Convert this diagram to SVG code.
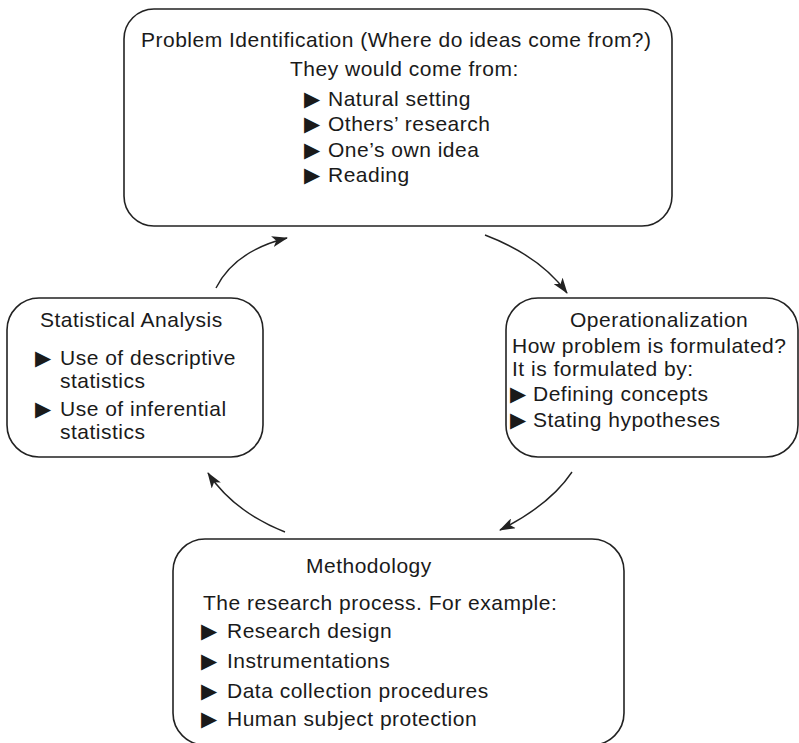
<svg xmlns="http://www.w3.org/2000/svg" width="799" height="743" viewBox="0 0 799 743">
<defs>
<style>
.box{fill:#fff;stroke:#222;stroke-width:1.6}
.t{font-family:"Liberation Sans",Arial,Helvetica,sans-serif;font-size:21px;fill:#1a1a1a;letter-spacing:0.5px}
.b{font-family:"DejaVu Sans",sans-serif;font-size:21px;fill:#1a1a1a}
.c{fill:none;stroke:#222;stroke-width:1.4}
</style>
<marker id="ah" markerWidth="16" markerHeight="11" refX="15" refY="5.5" orient="auto" markerUnits="userSpaceOnUse">
<path d="M0,0 L16,5.5 L0,11 L4,5.5 Z" fill="#222"/>
</marker>
</defs>
<rect width="799" height="743" fill="#fff"/>
<g id="problem-identification">
<rect class="box" x="124" y="9" width="548" height="217" rx="30"/>
<text class="t" x="141" y="47">Problem Identification (Where do ideas come from?)</text>
<text class="t" x="290" y="76">They would come from:</text>
<text class="b" x="304" y="106">▶</text><text class="t" x="328" y="106">Natural setting</text>
<text class="b" x="304" y="131">▶</text><text class="t" x="328" y="131">Others’ research</text>
<text class="b" x="304" y="157">▶</text><text class="t" x="328" y="157">One’s own idea</text>
<text class="b" x="304" y="182">▶</text><text class="t" x="328" y="182">Reading</text>
</g>
<g id="statistical-analysis">
<rect class="box" x="7" y="298" width="256" height="159" rx="32"/>
<text class="t" x="40" y="327">Statistical Analysis</text>
<text class="b" x="35" y="365">▶</text><text class="t" x="60" y="365">Use of descriptive</text>
<text class="t" x="60" y="388">statistics</text>
<text class="b" x="35" y="416">▶</text><text class="t" x="60" y="416">Use of inferential</text>
<text class="t" x="60" y="439">statistics</text>
</g>
<g id="operationalization">
<rect class="box" x="506" y="298" width="292" height="159" rx="32"/>
<text class="t" x="570" y="327">Operationalization</text>
<text class="t" x="512" y="353">How problem is formulated?</text>
<text class="t" x="512" y="376">It is formulated by:</text>
<text class="b" x="510" y="401">▶</text><text class="t" x="533" y="401">Defining concepts</text>
<text class="b" x="510" y="427">▶</text><text class="t" x="533" y="427">Stating hypotheses</text>
</g>
<g id="methodology">
<rect class="box" x="173" y="539" width="451" height="206" rx="32"/>
<text class="t" x="306" y="573">Methodology</text>
<text class="t" x="203" y="610">The research process. For example:</text>
<text class="b" x="201" y="638">▶</text><text class="t" x="227" y="638">Research design</text>
<text class="b" x="201" y="668">▶</text><text class="t" x="227" y="668">Instrumentations</text>
<text class="b" x="201" y="698">▶</text><text class="t" x="227" y="698">Data collection procedures</text>
<text class="b" x="201" y="726">▶</text><text class="t" x="227" y="726">Human subject protection</text>
</g>
<g id="connectors">
<path class="c" d="M216,288 Q234.5,251 287,238" marker-end="url(#ah)"/>
<path class="c" d="M485,235 Q540,256 567,293" marker-end="url(#ah)"/>
<path class="c" d="M572,472 Q550,505 500,530" marker-end="url(#ah)"/>
<path class="c" d="M285,532 Q233.5,511.5 208,473" marker-end="url(#ah)"/>
</g>
</svg>
